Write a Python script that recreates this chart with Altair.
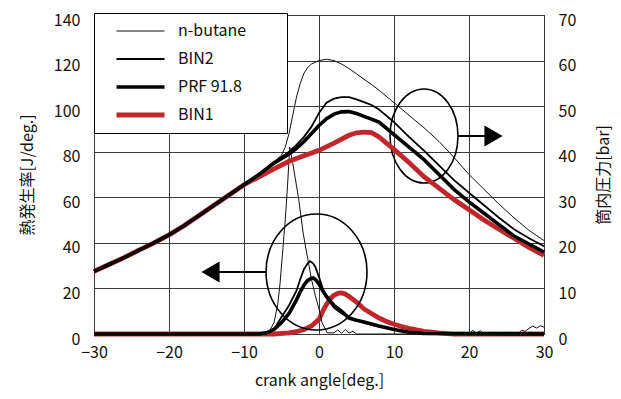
import altair as alt
import pandas as pd

FONT = "Noto Sans CJK JP"
SERIES = ["n-butane", "BIN2", "PRF 91.8", "BIN1"]
COLORS = ["#111111", "#000000", "#000000", "#c0272d"]
WIDTHS = [1.0, 1.8, 3.6, 4.8]
DRAW_ORDER = ["BIN1", "PRF 91.8", "BIN2", "n-butane"]

# ---- cylinder pressure [bar] ----
comp_ca = [-30, -28, -26, -24, -22, -20, -18, -16, -14, -12, -10]
comp_p = [13.75, 15.25, 16.75, 18.4, 20.0, 21.75, 23.75, 26.0, 28.25, 30.5, 32.75]

p_nb_ca = [-8, -6, -5, -4.5, -4, -3.5, -3, -2.5, -2, -1.5, -1, 0, 1, 2, 3, 4, 5, 6, 7, 8,
           10, 12, 14, 16, 18, 20, 22, 24, 26, 28, 30]
p_nb = [35.0, 37.75, 39.25, 41.0, 44.0, 48.0, 52.0, 55.0, 57.25, 58.5, 59.25, 60.0, 60.3, 60.0,
        59.25, 58.25, 57.1, 55.9, 54.75, 53.5, 50.75, 48.0, 45.25, 42.25, 38.75, 35.0, 31.75,
        28.5, 25.5, 22.75, 20.5]

p_b2_ca = [-8, -6, -4, -3, -2, -1, 0, 1, 2, 3, 4, 5, 6, 7, 8, 10, 12, 14, 16, 18, 20, 22, 24, 26, 28, 30]
p_b2 = [35.0, 37.75, 40.0, 41.5, 43.25, 45.5, 48.5, 50.75, 51.65, 52.0, 52.0, 51.5, 50.9, 50.25,
        49.25, 46.5, 43.25, 40.25, 37.0, 33.75, 31.0, 28.25, 25.5, 23.0, 21.0, 19.25]

p_prf_ca = [-8, -6, -4, -3, -2, -1, 0, 1, 2, 3, 4, 5, 6, 7, 8, 10, 12, 14, 16, 18, 20, 22, 24, 26, 28, 30]
p_prf = [35.0, 37.5, 39.5, 40.75, 42.25, 44.0, 45.75, 47.25, 48.25, 48.75, 48.8, 48.4, 47.75, 47.15,
         46.5, 43.75, 41.0, 38.25, 35.0, 31.75, 29.0, 26.5, 24.0, 21.5, 19.75, 18.0]

p_b1_ca = [-8, -6, -4, -2, 0, 2, 4, 5, 6, 7, 8, 10, 12, 14, 16, 18, 20, 22, 24, 26, 28, 30]
p_b1 = [34.5, 36.25, 37.9, 39.1, 40.3, 41.9, 43.6, 44.15, 44.3, 44.2, 43.25, 40.5, 37.65, 34.5,
        32.0, 29.5, 27.25, 25.0, 23.0, 21.0, 19.0, 17.25]

# ---- heat release rate [J/deg.] ----
h_nb_ca = [-30, -8, -7, -6.5, -6, -5.5, -5.2, -4.8, -4.5, -4.2, -3.9, -3.5, -3, -2.7, -2.1, -1.5,
           -1, -0.5, 0, 0.4, 1.1, 2, 2.5, 3, 3.5, 4, 4.5, 5, 8, 14, 14.5, 15, 20, 20.5, 21, 21.5,
           22, 26.5, 27, 27.5, 28, 28.5, 29, 29.5, 30]
h_nb = [0, 0, 0.3, 2, 5, 13, 22, 38, 50, 65, 82, 75, 65, 59, 44, 33, 24, 17, 11, 5, 0.5, 0.5,
        1.8, 0.3, 2.0, 0.4, 1.2, 0, 0, 0, 0.8, 0, 0, 1.6, 0.3, 1.5, 0, 0, 1.6, 1.2, 2.5, 3.5,
        2.6, 3.6, 3.0]

h_b2_ca = [-30, -8, -7, -6, -5, -4, -3, -2.5, -2, -1.5, -1.2, -0.8, -0.5, 0, 0.5, 1, 2, 3, 4, 5,
           6, 7, 8, 10, 12, 14, 30]
h_b2 = [0, 0, 0.5, 2, 7.5, 12.5, 19, 24, 28.5, 31, 32, 31, 29.5, 25, 20, 16, 11.5, 9, 7.5, 6, 5,
        4, 3.2, 2, 1, 0.3, 0]

h_prf_ca = [-30, -8, -7, -6, -5, -4, -3, -2.5, -2, -1.5, -1, -0.8, -0.5, 0, 0.5, 1, 2, 3, 4, 5,
            6, 8, 10, 12, 14, 30]
h_prf = [0, 0, 0.5, 2, 5, 9, 15, 18.5, 21.5, 23.5, 24.5, 24.6, 24, 22, 19, 16.5, 12.5, 10, 7, 6,
         5.3, 3.5, 2, 0.8, 0.2, 0]

h_b1_ca = [-30, -6, -4, -3, -2, -1, 0, 0.5, 1, 1.5, 2, 2.5, 3, 3.5, 4, 5, 6, 7, 8, 9, 10, 11, 12,
           13, 14, 16, 18, 30]
h_b1 = [0, 0, 0.5, 1, 2, 3.5, 6.5, 10, 13, 15.5, 17, 17.8, 18, 17.6, 16.5, 14, 11, 9, 7, 5.5,
        4.3, 3.3, 2.5, 1.8, 1.2, 0.5, 0, 0]

# ---- annotations (left-axis units) ----
ell_ca = [-0.33, 14.0]
ell_v = [27.2, 86.9]
arrow_from = [-7.07, 18.53]
arrow_to = [-14.47, 23.27]
arrow_v = [27.2, 86.9]

pressure = {
    "n-butane": (comp_ca + p_nb_ca, comp_p + p_nb),
    "BIN2": (comp_ca + p_b2_ca, comp_p + p_b2),
    "PRF 91.8": (comp_ca + p_prf_ca, comp_p + p_prf),
    "BIN1": (comp_ca + p_b1_ca, comp_p + p_b1),
}
hrr = {
    "n-butane": (h_nb_ca, h_nb),
    "BIN2": (h_b2_ca, h_b2),
    "PRF 91.8": (h_prf_ca, h_prf),
    "BIN1": (h_b1_ca, h_b1),
}

x_axis = alt.Axis(values=[-30, -20, -10, 0, 10, 20, 30], title="crank angle[deg.]", grid=True,
                  ticks=False, tickSize=0, domain=False, labelPadding=10, titlePadding=12,
                  labelFlush=False)
x_scale = alt.Scale(domain=[-30, 30], nice=False)
left_axis = alt.Axis(values=list(range(0, 141, 20)), title="熱発生率[J/deg.]", grid=True,
                     ticks=False, tickSize=0, domain=False, labelPadding=14, titlePadding=18,
                     labelOffset=5, labelFlush=False)
left_scale = alt.Scale(domain=[0, 140], nice=False)
right_axis = alt.Axis(values=list(range(0, 71, 10)), title="筒内圧力[bar]", orient="right",
                      grid=False, ticks=False, tickSize=0, domain=False, labelPadding=14,
                      titlePadding=36, titleAngle=270, labelOffset=5, labelFlush=False)
right_scale = alt.Scale(domain=[0, 70], nice=False)

legend = alt.Legend(orient="none", legendX=0, legendY=-2, title=None, fillColor="white",
                    strokeColor="black", padding=8, symbolType="stroke", symbolSize=2304,
                    symbolOffset=12, labelOffset=11, labelFontSize=16, rowPadding=8,
                    clipHeight=20,
                    labelExpr="datum.label + '" + "\u00a0" * 9 + "\u200b'")
color = alt.Color("series:N", scale=alt.Scale(domain=SERIES, range=COLORS), legend=legend)
swidth = alt.StrokeWidth("series:N",
                         scale=alt.Scale(type="ordinal", domain=SERIES, range=WIDTHS),
                         legend=legend)


def xenc(f):
    return alt.X(f, type="quantitative", scale=x_scale, axis=x_axis)


def lyenc(f):
    return alt.Y(f, type="quantitative", scale=left_scale, axis=left_axis)


left_layers = []
right_layers = []
for s in DRAW_ORDER:
    cx, cy = hrr[s]
    dfh = pd.DataFrame({"ca": cx, "v": cy, "series": s})
    left_layers.append(alt.Chart(dfh).mark_line(interpolate="linear").encode(
        x=xenc("ca"), y=lyenc("v"), color=color, strokeWidth=swidth))
    px, py = pressure[s]
    dfp = pd.DataFrame({"ca": px, "p": py, "series": s})
    right_layers.append(alt.Chart(dfp).mark_line(interpolate="linear").encode(
        x=xenc("ca"),
        y=alt.Y("p", type="quantitative", scale=right_scale, axis=right_axis),
        color=color, strokeWidth=swidth))

ell1 = alt.Chart(pd.DataFrame({"ca": [ell_ca[0]], "v": [ell_v[0]]})).mark_point(
    shape="M-0.87,0A0.87,1 0 1,1 0.87,0A0.87,1 0 1,1 -0.87,0", size=13456,
    filled=False, stroke="black", strokeWidth=1.6, opacity=1).encode(x=xenc("ca"), y=lyenc("v"))
ell2 = alt.Chart(pd.DataFrame({"ca": [ell_ca[1]], "v": [ell_v[1]]})).mark_point(
    shape="M-0.723,0A0.723,1 0 1,1 0.723,0A0.723,1 0 1,1 -0.723,0", size=8836,
    filled=False, stroke="black", strokeWidth=1.6, opacity=1).encode(x=xenc("ca"), y=lyenc("v"))
arrows_df = pd.DataFrame({"a": arrow_from, "b": arrow_to, "v": arrow_v})
shafts = alt.Chart(arrows_df).mark_rule(color="black", strokeWidth=1.8).encode(
    x=xenc("a"), x2="b", y=lyenc("v"))
head_l = alt.Chart(pd.DataFrame({"ca": [arrow_to[0]], "v": [arrow_v[0]]})).mark_point(
    shape="triangle-left", size=441, filled=True, color="black", opacity=1).encode(
    x=xenc("ca"), y=lyenc("v"))
head_r = alt.Chart(pd.DataFrame({"ca": [arrow_to[1]], "v": [arrow_v[1]]})).mark_point(
    shape="triangle-right", size=441, filled=True, color="black", opacity=1).encode(
    x=xenc("ca"), y=lyenc("v"))

left = alt.layer(*left_layers, ell1, ell2, shafts, head_l, head_r)
right = alt.layer(*right_layers)

chart = alt.layer(left, right).resolve_scale(y="independent").properties(
    width=450, height=319,
    autosize=alt.AutoSizeParams(type="none"),
    padding={"left": 86, "top": 7, "right": 69, "bottom": 57},
).configure_view(stroke="black", strokeWidth=1).configure_axis(
    labelFont=FONT, titleFont=FONT, labelFontSize=16, titleFontSize=16,
    titleFontWeight="normal", labelColor="#111", titleColor="#111",
    gridColor="#3a3a3a", gridWidth=1, gridOpacity=1,
).configure_legend(labelFont=FONT, labelColor="#111")

chart.save("out.html", embed_options={"renderer": "svg", "actions": False})
